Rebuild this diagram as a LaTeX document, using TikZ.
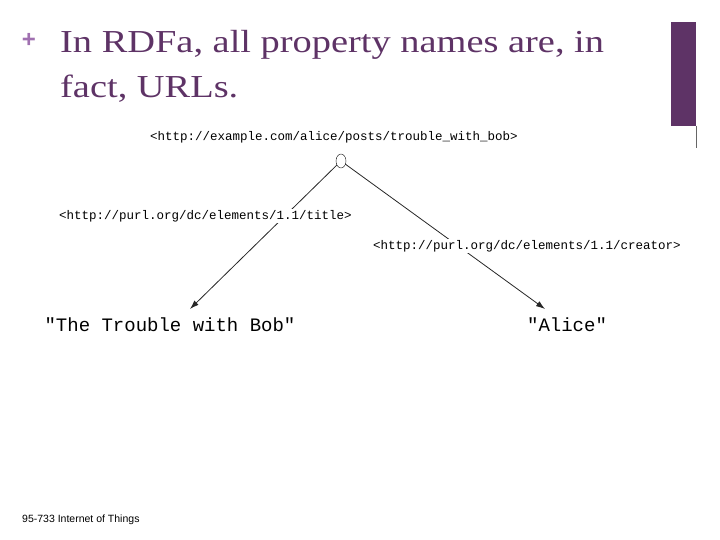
\documentclass[tikz,border=0pt]{standalone}
\usepackage{fontspec}
\usetikzlibrary{shapes.geometric,arrows.meta}
\setmainfont{Liberation Serif}
\setmonofont{Liberation Mono}
\setsansfont{Liberation Sans}
\definecolor{plum}{HTML}{5E3366}
\definecolor{lplum}{HTML}{A070B0}
\begin{document}
\begin{tikzpicture}[x=1pt,y=-1pt,
  uri/.style={font=\ttfamily\fontsize{12.5}{14}\selectfont,fill=white,inner sep=1pt},
  lit/.style={font=\ttfamily\fontsize{19}{22}\selectfont,inner sep=1pt},
  edge/.style={draw=black!85,line width=0.8pt,-{Latex[length=9pt,width=6pt]}}]
\useasboundingbox (0,0) rectangle (720,540);
\fill[plum] (671,22) rectangle (696,126);
\draw[black!60,line width=0.5pt] (696,126) -- (696,148);
\node[text=lplum,font=\sffamily\bfseries\fontsize{24}{24}\selectfont] (plus) at (29,40) {+};
\node[anchor=north west,text=plum,align=left,font=\fontsize{32}{45}\selectfont,inner sep=0] (title) at (60,30) {\scalebox{1.2}[1]{In RDFa, all property names are, in}\\\scalebox{1.2}[1]{fact, URLs.}};
\node[uri,anchor=west] (subj) at (149,137) {<http://example.com/alice/posts/trouble\_with\_bob>};
\node[lit] (bob) at (170,325) {"The Trouble with Bob"};
\node[lit] (alice) at (567,325) {"Alice"};
\coordinate (bt) at (190,309);
\coordinate (at) at (545,309);
\coordinate (rc) at (341,161);
\draw[edge] (rc) -- (bt);
\draw[edge] (rc) -- (at);
\node[draw=black,fill=white,ellipse,minimum width=10pt,minimum height=14pt,inner sep=0] (root) at (rc) {};
\node[uri,anchor=west] (tl) at (58,216) {<http://purl.org/dc/elements/1.1/title>};
\node[uri,anchor=west] (cl) at (372,246) {<http://purl.org/dc/elements/1.1/creator>};
\node[anchor=west,font=\sffamily\fontsize{10.5}{11}\selectfont,inner sep=0] (foot) at (22,520) {95-733 Internet of Things};
\end{tikzpicture}
\end{document}
